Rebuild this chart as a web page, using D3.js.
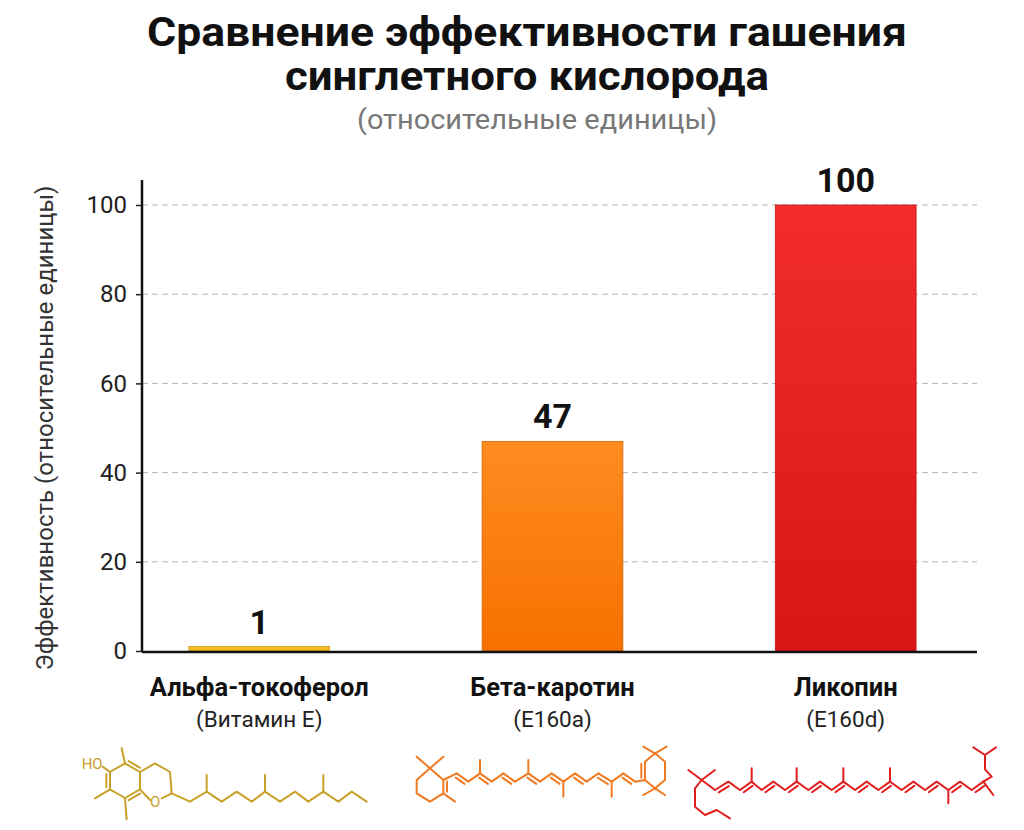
<!DOCTYPE html>
<html>
<head>
<meta charset="utf-8">
<script src="https://cdn.jsdelivr.net/npm/d3@7"></script>
<style>
  body { margin: 0; background: #fff; }
  svg { display: block; font-family: Roboto, "Noto Sans", sans-serif; }
</style>
</head>
<body>
<svg id="vis" width="1024" height="830"></svg>
<script>
// chart data
var names = ["Альфа-токоферол", "Бета-каротин", "Ликопин"];
var codes = ["(Витамин Е)", "(E160a)", "(E160d)"];
var values = [1, 47, 100];
var yTicks = [0, 20, 40, 60, 80, 100];

var titleLines = ["Сравнение эффективности гашения", "синглетного кислорода"];
var titleWidths = [760, 484];
var subtitle = "(относительные единицы)";
var yTitle = "Эффективность (относительные единицы)";

// bar colours: top / bottom of the gradient, and molecule stroke
var barTop = ["#f7c531", "#ff8b20", "#f22c2c"];
var barBottom = ["#f0b018", "#f57100", "#d81616"];
var molColor = ["#c9a12a", "#f07a22", "#e01e1e"];

var vis = d3.select("#vis");
var plotLeft = 142, plotRight = 977, plotTop = 205, plotBottom = 651;

var x = d3.scaleBand()
    .domain(names)
    .range([plotLeft, 963])
    .paddingInner(0.52)
    .paddingOuter(0.16);

var y = d3.scaleLinear()
    .domain([0, 100])
    .range([plotBottom, plotTop]);

// gradients
var defs = vis.append("defs");
names.forEach(function (n, i) {
    var g = defs.append("linearGradient")
        .attr("id", "grad" + i)
        .attr("x1", 0).attr("y1", 0).attr("x2", 0).attr("y2", 1);
    g.append("stop").attr("offset", "0%").attr("stop-color", barTop[i]);
    g.append("stop").attr("offset", "100%").attr("stop-color", barBottom[i]);
});

// titles
vis.selectAll(".title").data(titleLines).enter().append("text")
    .attr("class", "title")
    .attr("x", 527)
    .attr("y", (d, i) => 46 + i * 44)
    .attr("text-anchor", "middle")
    .attr("font-size", "40px")
    .attr("font-weight", 700)
    .attr("fill", "#111")
    .attr("textLength", (d, i) => titleWidths[i])
    .attr("lengthAdjust", "spacingAndGlyphs")
    .text(d => d);

vis.append("text")
    .attr("x", 537)
    .attr("y", 129)
    .attr("text-anchor", "middle")
    .attr("font-size", "28px")
    .attr("fill", "#777")
    .attr("textLength", 360)
    .attr("lengthAdjust", "spacingAndGlyphs")
    .text(subtitle);

// grid lines
vis.append("g")
    .selectAll("line")
    .data(yTicks.filter(d => d > 0))
    .enter().append("line")
    .attr("x1", plotLeft).attr("x2", plotRight)
    .attr("y1", d => y(d)).attr("y2", d => y(d))
    .attr("stroke", "#b5b5b5")
    .attr("stroke-width", 1)
    .attr("stroke-dasharray", "6,4");

// y axis
var yAxis = vis.append("g")
    .attr("transform", `translate(${plotLeft},0)`)
    .call(d3.axisLeft(y).tickValues(yTicks).tickSize(6).tickSizeOuter(0).tickPadding(9));
yAxis.select(".domain").remove();
yAxis.selectAll(".tick line").attr("stroke", "#222").attr("stroke-width", 1.5);
yAxis.selectAll(".tick text")
    .attr("font-family", "Roboto, sans-serif")
    .attr("font-size", "24px")
    .attr("fill", "#222");

vis.append("line")
    .attr("x1", plotLeft).attr("x2", plotLeft)
    .attr("y1", 180).attr("y2", plotBottom + 1)
    .attr("stroke", "#111").attr("stroke-width", 2.5);

vis.append("text")
    .attr("transform", `translate(53,${(180 + 676) / 2}) rotate(-90)`)
    .attr("text-anchor", "middle")
    .attr("font-size", "24px")
    .attr("fill", "#333")
    .text(yTitle);

// bars
vis.selectAll(".bar").data(values).enter().append("rect")
    .attr("class", "bar")
    .attr("x", (d, i) => x(names[i]))
    .attr("width", x.bandwidth())
    .attr("y", d => y(d))
    .attr("height", d => plotBottom - y(d))
    .attr("fill", (d, i) => `url(#grad${i})`)
    .attr("stroke", (d, i) => d3.color(barBottom[i]).darker(0.4))
    .attr("stroke-width", 0.8);

// x baseline
vis.append("line")
    .attr("x1", plotLeft).attr("x2", plotRight)
    .attr("y1", plotBottom + 1).attr("y2", plotBottom + 1)
    .attr("stroke", "#111").attr("stroke-width", 2.5);

// value labels
vis.selectAll(".val").data(values).enter().append("text")
    .attr("class", "val")
    .attr("x", (d, i) => x(names[i]) + x.bandwidth() / 2)
    .attr("y", d => y(d) - 13)
    .attr("text-anchor", "middle")
    .attr("font-size", "34px")
    .attr("font-weight", 700)
    .attr("fill", "#111")
    .text(d => d);

// category labels
vis.selectAll(".cat").data(names).enter().append("text")
    .attr("class", "cat")
    .attr("x", d => x(d) + x.bandwidth() / 2)
    .attr("y", 696)
    .attr("text-anchor", "middle")
    .attr("font-size", "25.5px")
    .attr("font-weight", 700)
    .attr("fill", "#111")
    .text(d => d);

vis.selectAll(".code").data(codes).enter().append("text")
    .attr("class", "code")
    .attr("x", (d, i) => x(names[i]) + x.bandwidth() / 2)
    .attr("y", 727)
    .attr("text-anchor", "middle")
    .attr("font-size", "22.5px")
    .attr("fill", "#222")
    .text(d => d);

/* Molecule sketches under each bar.
   Drawn in a 3x local grid (zoomed units) and scaled down. */
function molecule(ox, oy, color, bonds, doubles, label) {
    var g = vis.append("g")
        .attr("transform", `translate(${ox},${oy}) scale(${1 / 3})`)
        .attr("fill", "none")
        .attr("stroke", color)
        .attr("stroke-width", 6)
        .attr("stroke-linejoin", "round")
        .attr("stroke-linecap", "round");
    var line = d3.line();
    bonds.forEach(b => g.append("path").attr("d", line(b)));
    // second strokes for double bonds, offset toward the inside
    doubles.forEach(function (s) {
        var a = s[0], b = s[1], off = s[2] || 12;
        var dx = b[0] - a[0], dy = b[1] - a[1];
        var len = Math.sqrt(dx * dx + dy * dy);
        var nx = -dy / len * off, ny = dx / len * off;
        g.append("path").attr("d", line([
            [a[0] + nx + dx * 0.12, a[1] + ny + dy * 0.12],
            [b[0] + nx - dx * 0.12, b[1] + ny - dy * 0.12]
        ]));
    });
    if (label) {
        g.append("text")
            .attr("x", label[0]).attr("y", label[1])
            .attr("stroke", "none")
            .attr("fill", color)
            .attr("font-size", "45px")
            .text(label[2]);
    }
}

// alpha-tocopherol
molecule(60, 730, molColor[0], [
    [[150, 126], [195, 100], [240, 126], [240, 178], [195, 204], [150, 178], [150, 126]],
    [[240, 126], [285, 100], [330, 126], [335, 190], [305, 205]],
    [[270, 210], [240, 178]],
    [[195, 100], [185, 55]],
    [[150, 126], [128, 110]],
    [[150, 178], [105, 205]],
    [[195, 204], [200, 268]],
    [[335, 190], [390, 215], [440, 185], [485, 215], [530, 185], [575, 215], [615, 185],
     [660, 215], [705, 185], [745, 215], [790, 185], [835, 215], [875, 185], [920, 215]],
    [[440, 185], [440, 135]],
    [[615, 185], [615, 135]],
    [[790, 185], [790, 135]]
], [
    [[195, 100], [240, 126], -11],
    [[240, 178], [195, 204], -11],
    [[150, 178], [150, 126], -11]
], [65, 118, "HO"]);
molecule(60, 730, molColor[0], [], [], [270, 230, "O"]);

// beta-carotene
var bcChain = [[130, 150], [170, 130], [205, 155], [240, 130], [275, 155], [310, 130],
    [345, 155], [385, 130], [420, 155], [455, 130], [490, 155], [525, 130], [560, 155],
    [595, 130], [635, 155], [670, 130], [705, 155], [735, 150]];
molecule(400, 730, molColor[1], [
    [[90, 115], [130, 150], [130, 190], [90, 215], [50, 190], [50, 150], [90, 115]],
    [[90, 115], [50, 80]], [[90, 115], [130, 80]],
    [[130, 190], [165, 215]],
    bcChain,
    [[240, 130], [240, 90]], [[385, 130], [385, 90]],
    [[490, 155], [490, 200]], [[635, 155], [635, 200]],
    [[735, 150], [735, 95], [765, 70], [795, 95], [795, 150], [765, 175], [735, 150]],
    [[765, 70], [730, 50]], [[765, 70], [800, 50]],
    [[765, 175], [730, 195]], [[765, 175], [795, 195]]
], [
    [[130, 150], [130, 190], -11],
    [bcChain[1], bcChain[2]], [bcChain[3], bcChain[4]], [bcChain[5], bcChain[6]],
    [bcChain[7], bcChain[8]], [bcChain[9], bcChain[10]], [bcChain[11], bcChain[12]],
    [bcChain[13], bcChain[14]], [bcChain[15], bcChain[16]],
    [[735, 95], [735, 150], 11]
]);

// lycopene
var lyChain = [[65, 150], [105, 180], [145, 155], [180, 180], [215, 155], [245, 180],
    [280, 155], [315, 180], [350, 155], [385, 180], [420, 155], [455, 180], [490, 155],
    [525, 180], [560, 155], [595, 180], [630, 155], [665, 180], [700, 155], [735, 180],
    [770, 155], [805, 180], [840, 155], [875, 180], [910, 155]];
molecule(680, 730, molColor[2], [
    [[65, 150], [25, 120]], [[65, 150], [105, 120]],
    [[65, 150], [45, 175], [45, 230], [75, 255], [110, 240], [150, 265]],
    lyChain,
    [[215, 155], [215, 115]], [[350, 155], [350, 115]],
    [[490, 155], [490, 115]], [[630, 155], [630, 115]],
    [[805, 180], [805, 220]],
    [[910, 155], [940, 195]],
    [[910, 155], [935, 140], [915, 118], [915, 75]],
    [[915, 75], [880, 52]], [[915, 75], [948, 52]]
], [
    [lyChain[1], lyChain[2]], [lyChain[3], lyChain[4]], [lyChain[5], lyChain[6]],
    [lyChain[7], lyChain[8]], [lyChain[9], lyChain[10]], [lyChain[11], lyChain[12]],
    [lyChain[13], lyChain[14]], [lyChain[15], lyChain[16]], [lyChain[17], lyChain[18]],
    [lyChain[19], lyChain[20]], [lyChain[21], lyChain[22]], [lyChain[23], lyChain[24]]
]);
</script>
</body>
</html>
